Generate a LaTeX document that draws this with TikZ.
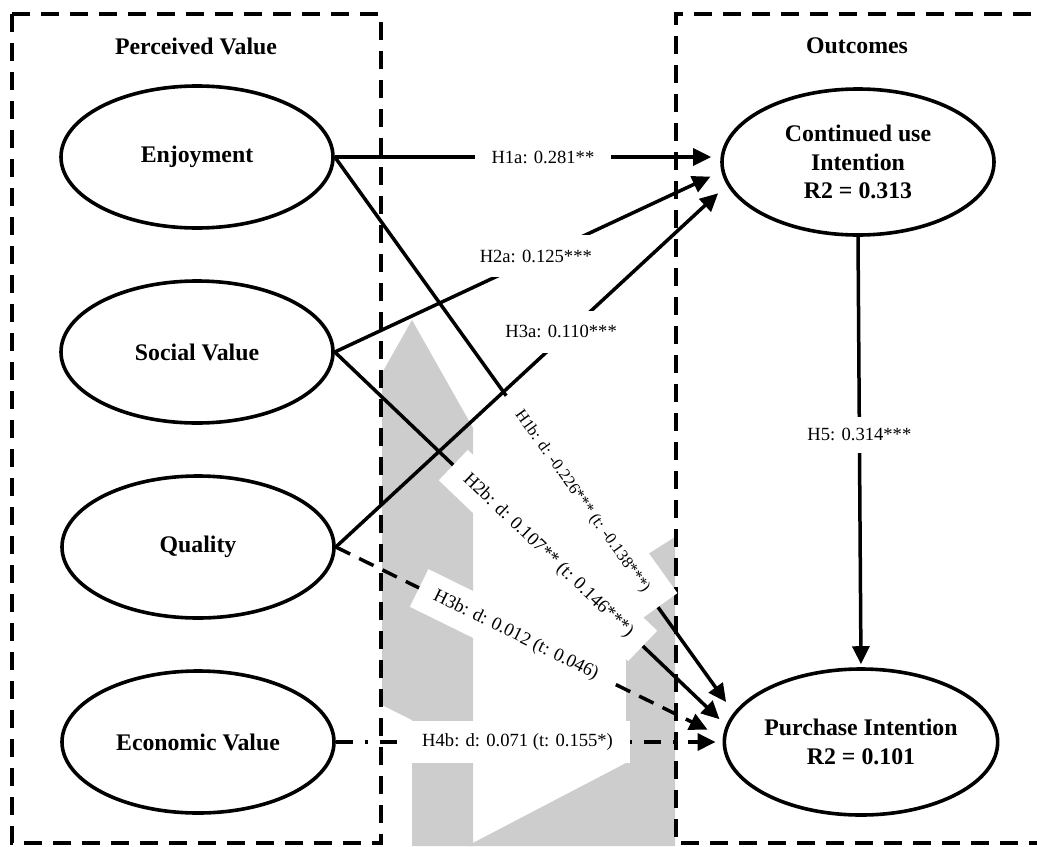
\documentclass[tikz,border=0pt]{standalone}
\usepackage{fontspec}
\setmainfont{Liberation Serif}
\usetikzlibrary{shapes.geometric,arrows.meta}
\definecolor{wmgray}{RGB}{205,205,205}
\tikzset{
  lv/.style={ellipse, draw, line width=1.8pt, minimum width=136pt, minimum height=71pt, inner sep=0pt, align=center, font=\bfseries\fontsize{11.9}{14.2}\selectfont},
  lvr/.style={lv, minimum height=73pt},
  head/.style={font=\bfseries\fontsize{11.9}{14.2}\selectfont},
  grp/.style={draw, line width=2pt, dash pattern=on 9pt off 5.5pt},
  rel/.style={line width=1.75pt, -{Triangle[length=9pt,width=8.5pt]}},
  nsrel/.style={rel, dash pattern=on 8pt off 5pt},
  dotrel/.style={rel, dash pattern=on 8.5pt off 6pt on 1.5pt off 6pt},
  lab/.style={fill=white, inner xsep=8.5pt, inner ysep=0pt, minimum height=21pt, font=\fontsize{9.3}{11}\selectfont},
  labsmall/.style={lab, minimum height=24pt, inner xsep=10pt, font=\fontsize{8.2}{10}\selectfont}
}
\begin{document}
\begin{tikzpicture}[x=0.5pt,y=-0.5pt]
\useasboundingbox (0,0) rectangle (1037,846);
% watermark
\begin{scope}
\clip (382,0) rectangle (675,846);
\fill[wmgray] (412,320) -- (473,428) -- (473,846) -- (412,846) -- (412,720) -- (382,705) -- (382,373) -- cycle;
\fill[wmgray] (626,568) -- (675,537) -- (675,846) -- (467,846) -- (626,763) -- cycle;
\end{scope}
% groups
\draw[grp] (12,14) rectangle (381,843);
\draw[grp] (1060,14) -- (676,14) -- (676,843) -- (1060,843);
\node[head] (hPV) at (196,46) {Perceived Value};
\node[head] (hOC) at (857,46) {Outcomes};
% constructs
\node[lv] (Enj) at (197,157) {Enjoyment};
\node[lv] (Soc) at (197,352) {Social Value};
\node[lv] (Qual) at (198,547) {Quality};
\node[lv] (Eco) at (198,742) {Economic Value};
\node[lvr] (Cont) at (858,162) {Continued use\\Intention\\R2 = 0.313};
\node[lvr] (PI) at (861,742) {Purchase Intention\\R2 = 0.101};
% paths to continued use
\draw[rel, shorten >=4.5pt] (Enj.east) -- (Enj.east -| Cont.west)
  node[lab, pos=0.54] (lH1a) {H1a: 0.281**};
\draw[rel, shorten >=6pt] (Soc.east) -- (Cont.184)
  node[lab, pos=0.52, yshift=1pt] (lH2a) {H2a: 0.125***};
\draw[rel, shorten >=6pt] (Qual.east) -- (Cont.190)
  node[lab, pos=0.576, yshift=3.5pt] (lH3a) {H3a: 0.110***};
% paths to purchase intention
\draw[rel, shorten >=6.5pt] (Enj.east) -- (PI.167)
  node[labsmall, pos=0.62, sloped] (lH1b) {H1b: d: -0.226*** (t: -0.138***)};
\draw[rel, shorten >=4.5pt] (Soc.east) -- (PI.173)
  node[lab, pos=0.545, sloped] (lH2b) {H2b: d: 0.107** (t: 0.146***)};
\draw[nsrel, shorten >=8.5pt] (Qual.east) -- (PI.178)
  node[lab, pos=0.465, sloped] (lH3b) {H3b: d: 0.012 (t: 0.046)};
\draw[dotrel, shorten >=3.5pt] (Eco.east) -- (Eco.east -| PI.west)
  node[lab, pos=0.47] (lH4b) {H4b: d: 0.071 (t: 0.155*)};
\draw[rel, shorten >=1.5pt] (Cont.south) -- (PI.north)
  node[lab, pos=0.46, minimum height=18pt, inner xsep=4pt] (lH5) {H5: 0.314***};
\end{tikzpicture}
\end{document}
